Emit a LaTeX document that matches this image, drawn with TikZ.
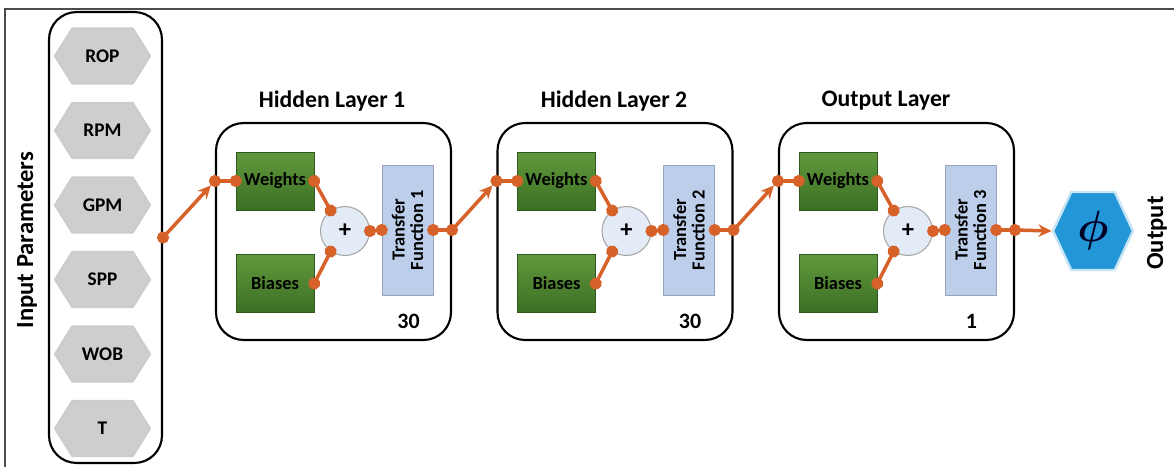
\documentclass[tikz,border=0pt]{standalone}
\usepackage{amsmath}
\usepackage{fontspec}
\setmainfont{Carlito}
\usetikzlibrary{arrows.meta,shapes.symbols}

\definecolor{wireorange}{RGB}{214,98,42}
\definecolor{hexgray}{RGB}{206,206,206}
\definecolor{wtop}{RGB}{98,152,60}
\definecolor{wbot}{RGB}{58,112,36}
\definecolor{tfblue}{RGB}{188,206,234}
\definecolor{sumblue}{RGB}{226,235,246}
\definecolor{phiblue}{RGB}{34,150,214}

\tikzset{
  panel/.style={draw, line width=1.2pt, rounded corners=0.55cm},
  param/.style={signal, signal to=east and west, signal pointer angle=116,
    draw=gray!40, line width=1.2pt, fill=hexgray, minimum width=1.9cm,
    minimum height=1.1cm, inner sep=0pt, font=\fontsize{11}{13}\selectfont\bfseries},
  wbox/.style={top color=wtop, bottom color=wbot, draw=wbot!80!black, line width=0.3pt,
    minimum width=1.56cm, minimum height=1.16cm, font=\fontsize{10.5}{12}\selectfont\bfseries},
  tfbox/.style={fill=tfblue, draw=tfblue!80!black, line width=0.3pt,
    minimum width=1.02cm, minimum height=2.6cm, inner sep=1pt,
    font=\fontsize{10.5}{12}\selectfont\bfseries},
  sumnode/.style={circle, fill=sumblue, draw=gray!70, line width=0.6pt, minimum size=0.98cm,
    inner sep=0pt, font=\fontsize{14}{16}\selectfont\bfseries},
  wire/.style={draw=wireorange, line width=2pt, {Circle[length=6.8pt]}-{Circle[length=6.8pt]},
    shorten <=-3.4pt, shorten >=-3.4pt},
  feed/.style={draw=wireorange, line width=2pt, -{Stealth[length=7.5pt,width=7pt]},
    shorten >=3.4pt},
  heading/.style={font=\fontsize{13.5}{16}\selectfont\bfseries},
}

\begin{document}
\begin{tikzpicture}[x=0.02cm, y=-0.02cm]
  \useasboundingbox (0,0) rectangle (1174,467);
  % frame
  \draw[gray!60!black, line width=1.1pt] (5,467) -- (5,9) -- (1174,9);

  % input parameters
  \node[panel, minimum width=2.26cm, minimum height=9.02cm] (inbox) at (105.5,237.5) {};
  \foreach \name [count=\k] in {ROP, RPM, GPM, SPP, WOB, T}
    \node[param] (p\k) at (102.5, {56+74.5*(\k-1)}) {\name};
  \node[heading, font=\fontsize{14}{16}\selectfont\bfseries, rotate=90] (inlabel) at (27,240) {Input Parameters};
  \coordinate (src) at (inbox.east);

  % layers
  \foreach \i/\cx/\tx/\ttl/\num in {1/333.5/332/Hidden Layer 1/30, 2/615/614/Hidden Layer 2/30,
                                    3/896.5/886/Output Layer/1} {
    \node[panel, minimum width=4.7cm, minimum height=4.34cm] (layer\i) at (\cx,231.5) {};
    \node[heading] (title\i) at (\tx,101) {\ttl};
    \node[wbox] (w\i) at (\cx-58.5,181) {Weights};
    \node[wbox] (b\i) at (\cx-58.5,283.5) {Biases};
    \node[sumnode] (sum\i) at (\cx+11.5,231) {+};
    \node[tfbox] (tf\i) at (\cx+74,230) {\rotatebox{90}{\shortstack{Transfer\\Function \i}}};
    \node[font=\fontsize{12.5}{14}\selectfont\bfseries] (n\i) at (\cx+75,321) {\num};
    \coordinate (in\i) at (layer\i.west |- w\i.west);
    \coordinate (out\i) at (layer\i.east |- tf\i.east);
    % connections inside the layer
    \draw[wire] (in\i) -- (w\i.west);
    \draw[wire] (w\i.east) -- (sum\i.125);
    \draw[wire] (b\i.east) -- (sum\i.235);
    \draw[wire] (sum\i.east) -- (tf\i.west);
    \draw[wire] (tf\i.east) -- (out\i);
  }

  % output
  \node[signal, signal to=east and west, signal pointer angle=130, fill=phiblue,
        draw=phiblue!25, line width=1.4pt, minimum width=1.6cm, minimum height=1.56cm,
        inner sep=0pt, font=\fontsize{23}{25}\selectfont, text=black!85!blue] (phi) at (1093,231) {$\boldsymbol{\phi}$};
  \node[heading, font=\fontsize{14}{16}\selectfont\bfseries, rotate=90] (outlabel) at (1157,233) {Output};

  % feed arrows
  \draw[draw=wireorange, line width=2pt, {Circle[length=6.8pt]}-{Stealth[length=7.5pt,width=7pt]},
        shorten <=-3.4pt, shorten >=3.4pt] (src) -- (in1);
  \foreach \i/\j in {1/2, 2/3}
    \draw[feed] (out\i) -- (in\j);
  \draw[feed, shorten >=0pt] (out3) -- (phi.west);
\end{tikzpicture}
\end{document}
